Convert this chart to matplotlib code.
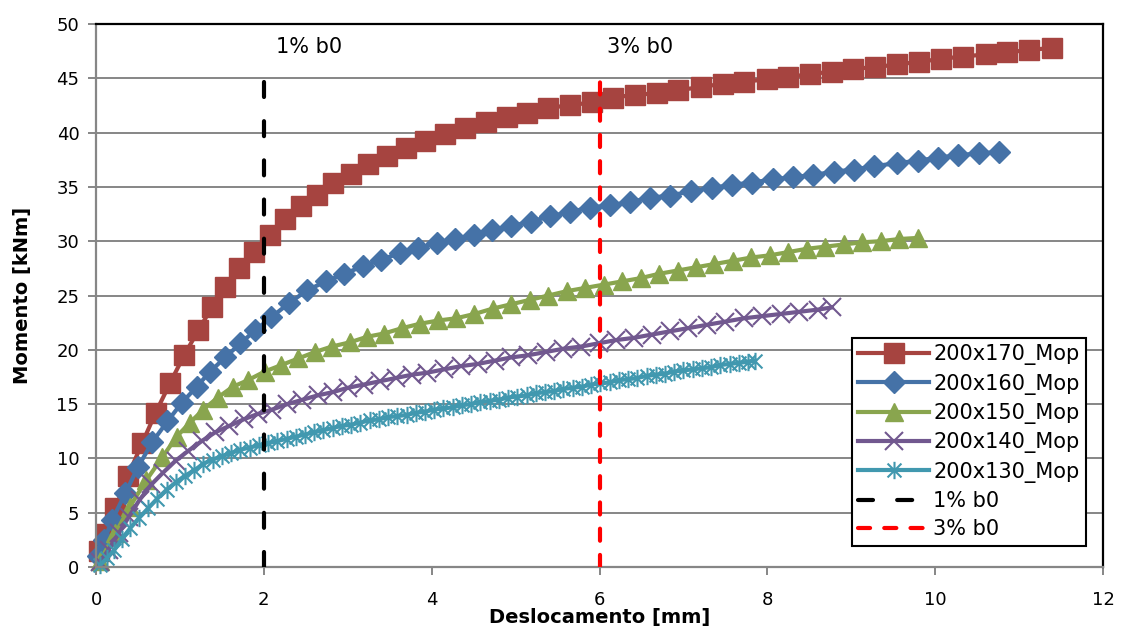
import matplotlib

matplotlib.use("Agg")

import matplotlib.pyplot as plt
from matplotlib.path import Path


# 200x170_Mop
X_170 = [0.03, 0.12, 0.23, 0.38, 0.55, 0.71, 0.88, 1.05, 1.22, 1.38, 1.54, 1.70, 1.88,
         2.07, 2.25, 2.44, 2.63, 2.83, 3.04, 3.24, 3.47, 3.69, 3.92, 4.16, 4.40, 4.65,
         4.90, 5.14, 5.39, 5.65, 5.91, 6.16, 6.42, 6.69, 6.94, 7.21, 7.47, 7.72, 8.00,
         8.25, 8.51, 8.77, 9.02, 9.28, 9.55, 9.81, 10.07, 10.33, 10.60, 10.86, 11.12, 11.39]
M_170 = [1.5, 3.0, 5.4, 8.4, 11.4, 14.2, 16.9, 19.5, 21.8, 23.9, 25.8, 27.5, 29.0,
         30.6, 32.0, 33.2, 34.3, 35.4, 36.2, 37.1, 37.8, 38.6, 39.2, 39.9, 40.4, 41.0,
         41.4, 41.8, 42.3, 42.5, 42.8, 43.2, 43.5, 43.6, 43.9, 44.2, 44.5, 44.7, 44.9,
         45.1, 45.4, 45.6, 45.9, 46.0, 46.3, 46.5, 46.8, 47.0, 47.2, 47.4, 47.6, 47.8]

# 200x160_Mop
X_160 = [0.02, 0.10, 0.19, 0.35, 0.50, 0.67, 0.85, 1.02, 1.20, 1.36, 1.54, 1.72, 1.90,
         2.09, 2.30, 2.52, 2.74, 2.96, 3.18, 3.40, 3.62, 3.84, 4.06, 4.28, 4.50, 4.72,
         4.95, 5.18, 5.41, 5.65, 5.89, 6.12, 6.36, 6.60, 6.84, 7.09, 7.34, 7.58, 7.82,
         8.07, 8.31, 8.55, 8.79, 9.03, 9.27, 9.55, 9.79, 10.03, 10.27, 10.52, 10.76]
M_160 = [1.0, 2.5, 4.3, 6.8, 9.2, 11.5, 13.4, 15.1, 16.6, 18.0, 19.3, 20.6, 21.8,
         23.0, 24.3, 25.5, 26.3, 27.0, 27.7, 28.3, 28.9, 29.4, 29.8, 30.2, 30.6, 31.0,
         31.4, 31.8, 32.3, 32.7, 33.1, 33.3, 33.6, 34.0, 34.2, 34.6, 34.9, 35.2, 35.4,
         35.7, 35.9, 36.1, 36.4, 36.6, 36.9, 37.2, 37.4, 37.7, 37.9, 38.1, 38.2]

# 200x150_Mop
X_150 = [0.05, 0.23, 0.40, 0.60, 0.79, 0.96, 1.12, 1.28, 1.45, 1.63, 1.81, 2.01, 2.21,
         2.41, 2.61, 2.81, 3.03, 3.23, 3.43, 3.65, 3.86, 4.08, 4.29, 4.51, 4.73, 4.95,
         5.17, 5.39, 5.61, 5.83, 6.05, 6.27, 6.49, 6.71, 6.93, 7.15, 7.37, 7.59, 7.81,
         8.03, 8.25, 8.47, 8.69, 8.91, 9.13, 9.35, 9.57, 9.79]
M_150 = [0.6, 3.1, 5.5, 8.0, 10.1, 12.0, 13.3, 14.5, 15.6, 16.6, 17.2, 18.0, 18.6,
         19.2, 19.8, 20.3, 20.7, 21.2, 21.5, 22.0, 22.4, 22.7, 22.9, 23.3, 23.8, 24.2,
         24.6, 25.0, 25.4, 25.7, 26.0, 26.3, 26.6, 27.0, 27.3, 27.6, 27.9, 28.2, 28.5,
         28.7, 29.0, 29.3, 29.5, 29.7, 29.9, 30.0, 30.2, 30.3]

# 200x140_Mop
X_140 = [0.05, 0.15, 0.27, 0.39, 0.52, 0.66, 0.80, 0.95, 1.10, 1.26, 1.42, 1.59, 1.76,
         1.93, 2.10, 2.28, 2.46, 2.64, 2.82, 3.00, 3.19, 3.38, 3.57, 3.76, 3.95, 4.15,
         4.35, 4.55, 4.75, 4.95, 5.15, 5.36, 5.57, 5.78, 5.99, 6.20, 6.41, 6.62, 6.84,
         7.06, 7.28, 7.50, 7.72, 7.94, 8.16, 8.38, 8.60, 8.77]
M_140 = [0.5, 1.6, 3.1, 4.6, 6.2, 7.6, 8.7, 9.8, 10.7, 11.6, 12.4, 13.0, 13.6,
         14.1, 14.5, 15.0, 15.4, 15.8, 16.1, 16.5, 16.8, 17.1, 17.4, 17.7, 17.9, 18.2,
         18.5, 18.7, 19.0, 19.3, 19.5, 19.8, 20.1, 20.3, 20.6, 20.9, 21.1, 21.4, 21.7,
         22.0, 22.3, 22.6, 22.9, 23.1, 23.3, 23.5, 23.7, 23.9]

# 200x130_Mop
X_130 = [0.05, 0.13, 0.22, 0.31, 0.41, 0.51, 0.62, 0.73, 0.84, 0.95, 1.06, 1.17, 1.28,
         1.39, 1.50, 1.61, 1.72, 1.83, 1.94, 2.05, 2.16, 2.27, 2.38, 2.49, 2.60, 2.71,
         2.82, 2.93, 3.04, 3.15, 3.26, 3.37, 3.48, 3.59, 3.70, 3.81, 3.92, 4.03, 4.14,
         4.25, 4.36, 4.47, 4.58, 4.69, 4.80, 4.91, 5.02, 5.13, 5.24, 5.35, 5.46, 5.57,
         5.68, 5.79, 5.90, 6.01, 6.12, 6.23, 6.34, 6.45, 6.56, 6.67, 6.78, 6.89, 7.00,
         7.11, 7.22, 7.33, 7.44, 7.55, 7.66, 7.77, 7.85]
M_130 = [0.2, 0.8, 1.6, 2.6, 3.6, 4.5, 5.4, 6.3, 7.1, 7.8, 8.4, 8.9, 9.5,
         9.9, 10.2, 10.5, 10.8, 11.0, 11.2, 11.4, 11.6, 11.8, 12.0, 12.2, 12.4, 12.6,
         12.8, 13.0, 13.1, 13.3, 13.5, 13.6, 13.8, 13.9, 14.0, 14.2, 14.3, 14.5, 14.6,
         14.7, 14.9, 15.0, 15.2, 15.3, 15.4, 15.6, 15.7, 15.8, 16.0, 16.1, 16.2, 16.4,
         16.5, 16.6, 16.8, 16.9, 17.0, 17.2, 17.3, 17.4, 17.6, 17.7, 17.8, 18.0, 18.1,
         18.2, 18.3, 18.4, 18.6, 18.7, 18.8, 18.9, 19.0]

LABELS = ["200x170_Mop", "200x160_Mop", "200x150_Mop", "200x140_Mop", "200x130_Mop"]

# reference lines: 1% and 3% of b0
REF_X = [2.0, 6.0]
REF_TOP = [46.1, 45.6]
REF_LABELS = ["1% b0", "3% b0"]

ASTERISK = Path(
    [(-1, -1), (1, 1), (-1, 1), (1, -1), (0, -1.25), (0, 1.25)],
    [Path.MOVETO, Path.LINETO, Path.MOVETO, Path.LINETO, Path.MOVETO, Path.LINETO],
)


def main():
    fig = plt.figure(figsize=(11.23, 6.28), dpi=100)
    ax = fig.add_axes([0.0855, 0.0971, 0.8967, 0.8647])

    grid_color = "#868686"
    ax.set_xlim(0, 12)
    ax.set_ylim(0, 50)
    ax.set_xticks(range(0, 13, 2))
    ax.set_yticks(range(0, 51, 5))
    ax.yaxis.grid(True, color=grid_color, linewidth=1.4)
    ax.set_axisbelow(True)

    styles = [
        dict(color="#A64440", marker="s", markersize=14.5),
        dict(color="#4572A7", marker="D", markersize=11),
        dict(color="#89A54E", marker="^", markersize=13.5),
        dict(color="#71588F", marker="x", markersize=12.5, markeredgewidth=1.5),
        dict(color="#4198AF", marker=ASTERISK, markersize=12.5, markeredgewidth=1.5),
    ]
    series = [(X_170, M_170), (X_160, M_160), (X_150, M_150), (X_140, M_140), (X_130, M_130)]
    for (x, y), label, style in zip(series, LABELS, styles):
        ax.plot(x, y, linewidth=3, label=label, clip_on=False,
                markeredgecolor=style["color"], **style)

    black = ax.plot([REF_X[0], REF_X[0]], [0, REF_TOP[0]], color="black", linewidth=3,
                    linestyle=(0, (3.6, 5.8)), dash_capstyle="round", label=REF_LABELS[0])[0]
    red = ax.plot([REF_X[1], REF_X[1]], [0, REF_TOP[1]], color="#FF0000", linewidth=3,
                  linestyle=(0, (2.9, 3.4)), dash_capstyle="round", label=REF_LABELS[1])[0]
    black.set_zorder(5)
    red.set_zorder(5)
    ax.text(REF_X[0] + 0.15, 47.9, REF_LABELS[0], fontsize=15, va="center", ha="left")
    ax.text(REF_X[1] + 0.09, 47.9, REF_LABELS[1], fontsize=15, va="center", ha="left")

    for side in ("left", "bottom"):
        ax.spines[side].set_color(grid_color)
        ax.spines[side].set_linewidth(1.6)
    for side in ("top", "right"):
        ax.spines[side].set_color("black")
        ax.spines[side].set_linewidth(1.6)
    ax.tick_params(axis="both", direction="out", color=grid_color, length=6, width=1.4,
                   labelsize=13)
    ax.tick_params(axis="x", pad=11)
    ax.tick_params(axis="y", pad=6)

    ax.set_xlabel("Deslocamento [mm]", fontsize=14, fontweight="bold", va="top")
    ax.xaxis.set_label_coords(0.5, -0.076)
    ax.set_ylabel("Momento [kNm]", fontsize=14, fontweight="bold")
    ax.yaxis.set_label_coords(-0.064, 0.5)

    leg = ax.legend(loc="upper left", bbox_to_anchor=(0.7507, 0.4217), fontsize=15,
                    frameon=True, fancybox=False, framealpha=1, edgecolor="black",
                    handlelength=3.4, handletextpad=0.2, labelspacing=0.4,
                    borderpad=0.3, borderaxespad=0)
    leg.get_frame().set_linewidth(1.5)
    leg.set_zorder(10)

    fig.savefig("out.png", dpi=100)
    plt.close(fig)


if __name__ == "__main__":
    main()
